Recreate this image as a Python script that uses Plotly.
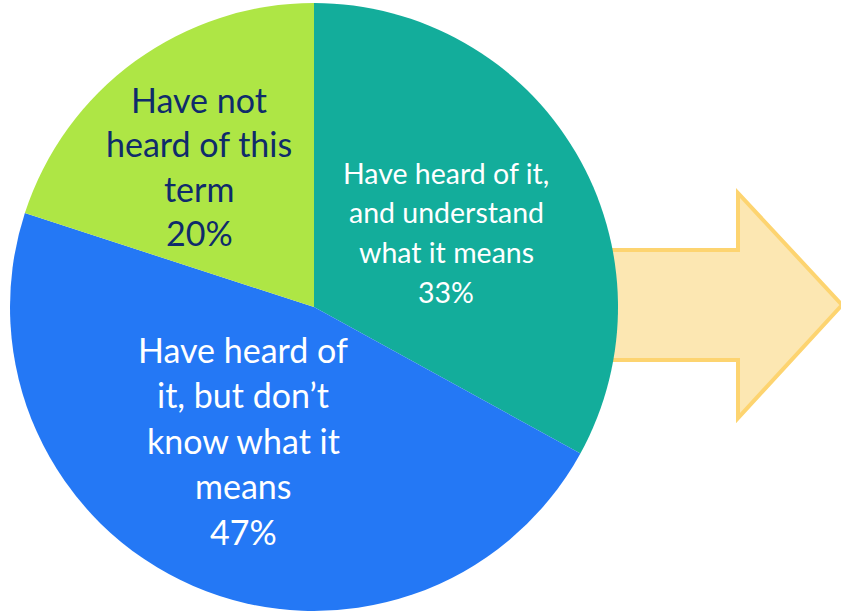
import plotly.graph_objects as go

# ---- data ----
categories = [
    "Have heard of it, and understand what it means",
    "Have heard of it, but don’t know what it means",
    "Have not heard of this term",
]
values = [33, 47, 20]
colors = ["#13AD9B", "#2478F5", "#AEE645"]
label_lines = [
    ["Have heard of it,", "and understand", "what it means", "33%"],
    ["Have heard of", "it, but don’t", "know what it", "means", "47%"],
    ["Have not", "heard of this", "term", "20%"],
]
label_colors = ["#FFFFFF", "#FFFFFF", "#0F2B6B"]

# ---- layout constants (pixels) ----
W, H = 841, 613
cx, cy, r = 314, 307, 304
label_cx = [446, 243, 199]
label_y0 = [173, 349, 99]
label_step = [39.5, 45.5, 44.5]
label_size = [28.5, 34, 34]

def px(x):
    return x / W

def py(y):
    return 1 - y / H

fig = go.Figure(go.Pie(
    labels=categories,
    values=values,
    sort=False,
    direction="clockwise",
    rotation=0,
    marker=dict(colors=colors, line=dict(width=0)),
    textinfo="none",
    hoverinfo="label+percent",
    showlegend=False,
    domain=dict(x=[px(cx - r), px(cx + r)], y=[py(cy + r), py(cy - r)]),
))

# arrow behind the pie
pts = [(560, 250), (738, 250), (738, 193), (842, 305), (738, 418), (738, 360), (560, 360)]
path = "M " + " L ".join(f"{px(x):.5f},{py(y):.5f}" for x, y in pts) + " Z"
fig.add_shape(type="path", path=path, xref="paper", yref="paper",
              fillcolor="#FCE7B2", line=dict(color="#FDD470", width=4), layer="below")

annotations = []
for i, lines in enumerate(label_lines):
    for j, t in enumerate(lines):
        annotations.append(dict(
            text=t, x=px(label_cx[i]), y=py(label_y0[i] + j * label_step[i]),
            xref="paper", yref="paper", xanchor="center", yanchor="middle",
            showarrow=False,
            font=dict(family="Lato", size=label_size[i], color=label_colors[i]),
        ))

fig.update_layout(
    width=W, height=H,
    margin=dict(l=0, r=0, t=0, b=0),
    paper_bgcolor="white", plot_bgcolor="white",
    annotations=annotations,
)

fig.write_html(
    "out.html",
    config={"displayModeBar": False},
    post_script="document.body.style.margin='0';document.body.style.overflow='hidden';",
)
